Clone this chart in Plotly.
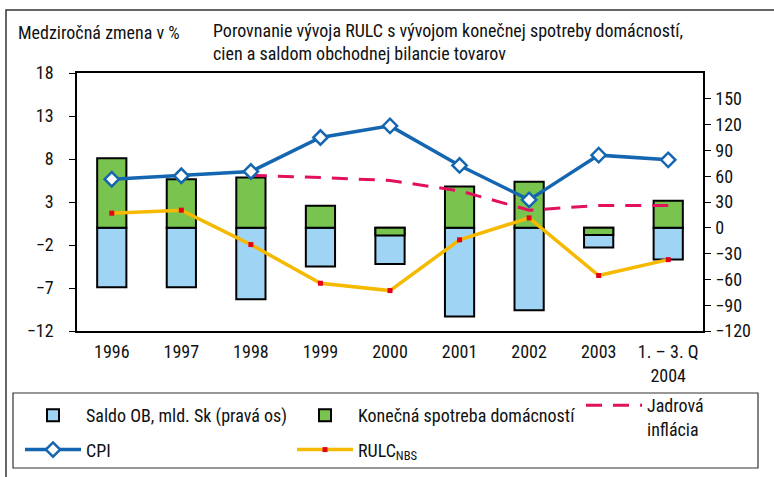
import plotly.graph_objects as go

categories = ["1996", "1997", "1998", "1999", "2000", "2001", "2002", "2003", "1. – 3. Q<br>2004"]
saldo_ob = [-69, -69, -83, -45, -42, -103, -96, -23, -37]          # right axis, mld. Sk
konecna_spotreba = [8.1, 5.65, 5.85, 2.55, -0.9, 4.8, 5.35, -0.85, 3.15]
cpi = [5.65, 6.05, 6.55, 10.5, 11.85, 7.25, 3.25, 8.45, 7.9]
jadrova = [None, None, 6.1, 5.85, 5.5, 4.3, 2.05, 2.6, 2.6]
rulc = [1.7, 2.05, -1.95, -6.45, -7.3, -1.4, 1.15, -5.55, -3.7]

left_ticks = [-12, -7, -2, 3, 8, 13, 18]
right_ticks = [-120, -90, -60, -30, 0, 30, 60, 90, 120, 150]

FONT = "Liberation Sans Narrow, Arial Narrow, Roboto Condensed, DejaVu Sans Condensed, sans-serif"
FS = 18
idx = list(range(len(categories)))

W, H = 774, 477
L, R, T, B = 77, 703, 73, 331
def px(x):
    return (x - L) / (R - L)
def py(y):
    return (B - y) / (B - T)

fig = go.Figure()
fig.add_trace(go.Bar(x=idx, y=saldo_ob, name="Saldo OB, mld. Sk (pravá os)", yaxis="y", xaxis="x",
                     width=0.42, marker=dict(color="#A0D4F4", line=dict(color="#000000", width=2)),
                     legend="legend", legendgroup="a"))
fig.add_trace(go.Bar(x=idx, y=konecna_spotreba, name="Konečná spotreba domácností", yaxis="y2", xaxis="x",
                     width=0.42, marker=dict(color="#79C34F", line=dict(color="#000000", width=2)),
                     legend="legend2", legendgroup="b"))
fig.add_trace(go.Scatter(x=idx, y=jadrova, name="Jadrová<br>inflácia", yaxis="y2", xaxis="x", mode="lines",
                         line=dict(color="#E2115E", width=3, dash="16px,11px"),
                         legend="legend3", legendgroup="c"))
fig.add_trace(go.Scatter(x=idx, y=cpi, name="CPI", yaxis="y2", xaxis="x", mode="lines+markers",
                         line=dict(color="#1466B0", width=3.5),
                         marker=dict(symbol="diamond", size=11, color="white", line=dict(color="#1466B0", width=2.5)),
                         legend="legend", legendgroup="d"))
fig.add_trace(go.Scatter(x=idx, y=rulc, name="RULC<sub>NBS</sub>", yaxis="y2", xaxis="x", mode="lines+markers",
                         line=dict(color="#F5BA00", width=3.5),
                         marker=dict(symbol="square", size=5, color="#E2001A"),
                         legend="legend2", legendgroup="e"))

legend_common = dict(font=dict(family=FONT, size=FS, color="#111"), bgcolor="rgba(0,0,0,0)",
                     orientation="v", yanchor="top", xanchor="left",
                     traceorder="grouped", itemwidth=56, valign="top")

fig.update_layout(
    width=W, height=H,
    margin=dict(l=L, r=W - R, t=T, b=H - B, autoexpand=False),
    paper_bgcolor="white", plot_bgcolor="white",
    font=dict(family=FONT, size=FS, color="#111"),
    barmode="overlay",
    xaxis=dict(range=[-0.5, 8.5], tickmode="array", tickvals=idx, ticktext=categories,
               ticks="", showline=True, mirror=True, linecolor="#000", linewidth=1.5,
               showgrid=False, zeroline=False, tickfont=dict(size=FS), ticklabelstandoff=4),
    xaxis2=dict(range=[-0.5, 8.5], overlaying="x", anchor="free", position=py(226.7),
                tickmode="array", tickvals=[i + 0.5 for i in idx[:-1]], ticks="outside", ticklen=5,
                tickcolor="#333", showticklabels=False, showline=True, linecolor="#555", linewidth=1.2,
                showgrid=False, zeroline=False),
    yaxis=dict(range=[-120, 180], side="right", tickmode="array", tickvals=right_ticks,
               ticks="outside", ticklen=6, tickcolor="#000", showline=True, linecolor="#000", linewidth=1.5,
               showgrid=False, zeroline=False, tickfont=dict(size=FS), ticklabelstandoff=1),
    yaxis2=dict(range=[-12, 18], overlaying="y", side="left", tickmode="array", tickvals=left_ticks,
                ticks="outside", ticklen=6, tickcolor="#000", showline=True, linecolor="#000", linewidth=1.5,
                showgrid=False, zeroline=False, tickfont=dict(size=FS), ticklabelstandoff=12),
    legend=dict(x=px(20), y=py(397), tracegroupgap=8, **legend_common),
    legend2=dict(x=px(292), y=py(397), tracegroupgap=8, **legend_common),
    legend3=dict(x=px(581), y=py(387), tracegroupgap=8, **legend_common),
    showlegend=True,
)

fig.add_annotation(text="Medziročná zmena v %", xref="paper", yref="paper", x=px(16), y=py(33),
                   xanchor="left", yanchor="middle", showarrow=False, font=dict(size=FS))
fig.add_annotation(text="Porovnanie vývoja RULC s vývojom konečnej spotreby domácností,<br>cien a saldom obchodnej bilancie tovarov",
                   xref="paper", yref="paper", x=px(211), y=py(42), xanchor="left", yanchor="middle",
                   align="left", showarrow=False, font=dict(size=FS))

# outer frame and legend frame
fig.add_shape(type="rect", xref="paper", yref="paper", x0=px(6), x1=px(790), y0=py(10), y1=py(490),
              line=dict(color="#333", width=1.5), layer="below")
fig.add_shape(type="rect", xref="paper", yref="paper", x0=px(13), x1=px(758), y0=py(393), y1=py(468),
              line=dict(color="#333", width=1.2), layer="below")

fig.write_html("out.html", config={"displayModeBar": False},
               post_script="document.body.style.margin='0';document.body.style.overflow='hidden';")
